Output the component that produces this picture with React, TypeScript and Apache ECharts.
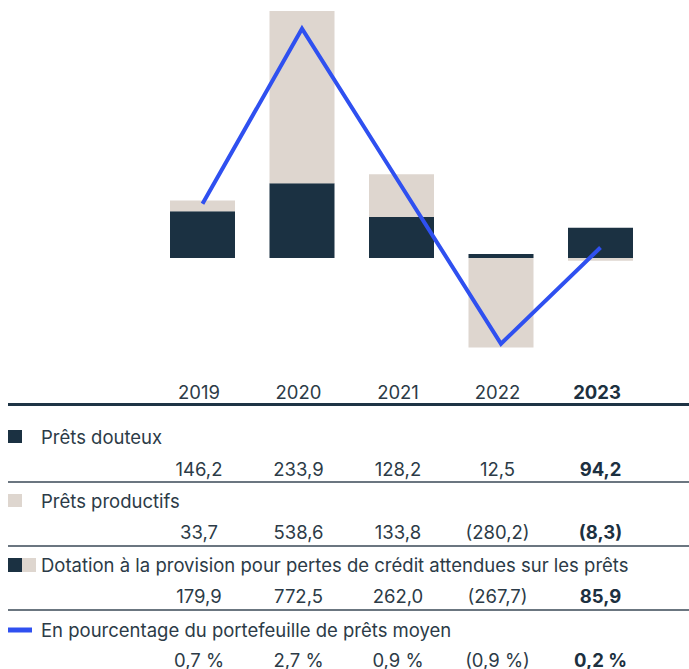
import React, { useEffect, useRef } from "react";
import * as echarts from "echarts";

// ---- data ----
const years = ["2019", "2020", "2021", "2022", "2023"];
const pretsDouteux = [146.2, 233.9, 128.2, 12.5, 94.2];
const pretsProductifs = [33.7, 538.6, 133.8, -280.2, -8.3];
const dotation = [179.9, 772.5, 262.0, -267.7, 85.9];
const pourcentage = [0.7, 2.7, 0.9, -0.9, 0.2];
const rowTitles = [
  "Prêts douteux",
  "Prêts productifs",
  "Dotation à la provision pour pertes de crédit attendues sur les prêts",
  "En pourcentage du portefeuille de prêts moyen",
];

// ---- styles / layout ----
const W = 689;
const H = 669;
const NAVY = "#1b3142";
const BEIGE = "#ded6cf";
const BLUE = "#2f50f0";
const TEXT = "#2c3b47";
const DARK = "#1c3040";
const FONT = "Inter, 'Noto Sans', sans-serif";
const FS = 18.5;
const GRID_LEFT = 152.75;
const GRID_W = 497.5;
const GRID_TOP = 11;
const GRID_H = 350;

function fmt(v: number, suffix = ""): string {
  const s = Math.abs(v).toFixed(1).replace(".", ",") + suffix;
  return v < 0 ? `(${s})` : s;
}

export default function App() {
  const ref = useRef<HTMLDivElement>(null);
  useEffect(() => {
    if (!ref.current) return;
    const chart = echarts.init(ref.current, undefined, { renderer: "svg" });
    const band = GRID_W / years.length;
    const colX = (i: number) => GRID_LEFT + (i + 0.5) * band - (i === years.length - 1 ? 0 : 3.5);

    const graphic: any[] = [];
    const hline = (y: number, w: number, c: string) =>
      graphic.push({
        type: "line",
        shape: { x1: 8, y1: y, x2: W, y2: y },
        style: { stroke: c, lineWidth: w },
      });
    const label = (text: string, y: number) =>
      graphic.push({
        type: "text",
        x: 41,
        y,
        style: { text, fontSize: FS, lineHeight: 19, fontFamily: FONT, fill: TEXT, align: "left", verticalAlign: "middle" },
      });
    const values = (arr: number[], y: number, suffix = "") =>
      arr.forEach((v, i) =>
        graphic.push({
          type: "text",
          x: colX(i),
          y,
          style: {
            text: fmt(v, suffix),
            fontSize: FS,
            lineHeight: 18,
            fontFamily: FONT,
            fontWeight: i === arr.length - 1 ? "bold" : "normal",
            fill: i === arr.length - 1 ? DARK : TEXT,
            align: "center",
            verticalAlign: "middle",
          },
        })
      );

    hline(404.5, 3, "#1e3445");
    // row 1
    graphic.push({ type: "rect", shape: { x: 8, y: 430, width: 14, height: 13 }, style: { fill: NAVY } });
    label(rowTitles[0], 437);
    values(pretsDouteux, 468.5);
    hline(482, 1.5, "#3a4956");
    // row 2
    graphic.push({ type: "rect", shape: { x: 8, y: 494, width: 14, height: 13 }, style: { fill: BEIGE } });
    label(rowTitles[1], 501);
    values(pretsProductifs, 532);
    hline(546, 1.5, "#3a4956");
    // row 3
    graphic.push({ type: "rect", shape: { x: 8, y: 558, width: 14, height: 14 }, style: { fill: NAVY } });
    graphic.push({ type: "rect", shape: { x: 22, y: 558, width: 14, height: 14 }, style: { fill: BEIGE } });
    label(rowTitles[2], 565);
    values(dotation, 596);
    hline(610, 1.5, "#3a4956");
    // row 4
    graphic.push({ type: "rect", shape: { x: 8, y: 627.5, width: 24, height: 5 }, style: { fill: BLUE } });
    label(rowTitles[3], 630);
    values(pourcentage, 659.5, "\u00a0%");

    chart.setOption({
      animation: false,
      textStyle: { fontFamily: FONT },
      grid: { left: GRID_LEFT, width: GRID_W, top: GRID_TOP, height: GRID_H, containLabel: false },
      xAxis: {
        type: "category",
        data: years,
        axisLine: { show: false },
        axisTick: { show: false },
        splitLine: { show: false },
        axisLabel: {
          interval: 0,
          hideOverlap: false,
          margin: 21,
          fontSize: FS,
          fontFamily: FONT,
          color: TEXT,
          padding: [0, 7, 0, 0],
          formatter: (v: string, i: number) => (i === years.length - 1 ? `{b|${v}}` : v),
          rich: { b: { fontWeight: "bold", fontSize: FS, fontFamily: FONT, color: DARK } },
        },
      },
      yAxis: [
        { type: "value", min: -322.2, max: 772.5, show: false, splitLine: { show: false } },
        { type: "value", min: -1.097, max: 2.903, show: false, splitLine: { show: false } },
      ],
      series: [
        { type: "bar", name: "Prêts douteux", stack: "a", data: pretsDouteux, barWidth: 65, itemStyle: { color: NAVY } },
        { type: "bar", name: "Prêts productifs", stack: "a", data: pretsProductifs, barWidth: 65, itemStyle: { color: BEIGE } },
        {
          type: "line",
          name: "En pourcentage",
          yAxisIndex: 1,
          data: pourcentage,
          symbol: "none",
          z: 5,
          lineStyle: { color: BLUE, width: 4, join: "miter" },
        },
      ],
      graphic,
    });
    return () => chart.dispose();
  }, []);
  return <div ref={ref} style={{ position: "fixed", left: 0, top: 0, width: W, height: H, background: "#fff" }} />;
}
